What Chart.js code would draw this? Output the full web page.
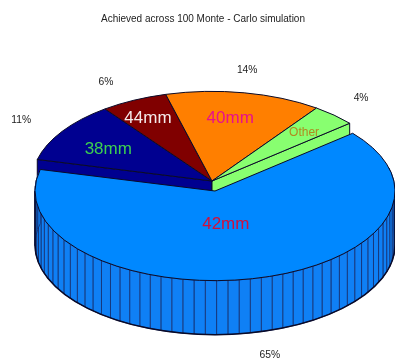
<!DOCTYPE html>
<html>
<head>
<meta charset="utf-8">
<title>Monte-Carlo pie</title>
<script src="https://cdn.jsdelivr.net/npm/chart.js@4"></script>
<style>
    html, body { margin: 0; padding: 0; background: #fff; }
    canvas { display: block; }
</style>
</head>
<body>
<canvas id="pieChart" width="395" height="358"></canvas>
<script>
const chartTitle = 'Achieved across 100 Monte - Carlo simulation';
const categories = ['42mm', '38mm', '44mm', '40mm', 'Other'];
const shares = [65, 11, 6, 14, 4];
const sliceColors = ['#0088ff', '#000090', '#800000', '#ff7f00', '#88ff70'];
const nameColors = ['#d0103c', '#3ccf50', '#f4eaea', '#e8108c', '#b08a20'];

// Pie is drawn flat by the library, then squashed and given depth here
const squash = 0.498;
const depth = 54;
const centerY = 181;
const wallColor = '#0f80f5';
const facetColor = 'rgba(20, 45, 110, 0.8)';
const edgeColor = '#0a0a28';
const explode = [3, 10]; // the big slice sits apart from the rest

// label offsets from the rim point at each slice's mid angle
const nameNudge = [[-30, -54], [46, 18], [14, 18], [-14, 26], [-30, 18]];
const shareNudge = [[14, 77], [-41, -11], [-28, -18], [3, -23], [27, -17]];

function place(arc, i) {
    return {
        x: arc.x + (i === 0 ? explode[0] : 0),
        y: centerY + (i === 0 ? explode[1] : 0),
        rx: arc.outerRadius,
        ry: arc.outerRadius * squash
    };
}

function rim(p, angle) {
    return [p.x + p.rx * Math.cos(angle), p.y + p.ry * Math.sin(angle)];
}

function drawQuad(ctx, a, b, h, fill) {
    ctx.beginPath();
    ctx.moveTo(a[0], a[1]);
    ctx.lineTo(b[0], b[1]);
    ctx.lineTo(b[0], b[1] + h);
    ctx.lineTo(a[0], a[1] + h);
    ctx.closePath();
    ctx.fillStyle = fill;
    ctx.fill();
    ctx.stroke();
}

// top face: library arc under a vertical squash, outline stroked unsquashed
function drawTop(ctx, arc, i) {
    const p = place(arc, i);
    ctx.save();
    ctx.translate(p.x, p.y);
    ctx.scale(1, squash);
    ctx.translate(-arc.x, -arc.y);
    arc.draw(ctx);
    ctx.restore();
    ctx.beginPath();
    ctx.moveTo(p.x, p.y);
    ctx.ellipse(p.x, p.y, p.rx, p.ry, 0, arc.startAngle, arc.endAngle);
    ctx.closePath();
    ctx.stroke();
}

// one facet per percent around the outer wall, darker outline along the bottom
function drawWall(ctx, arc, i) {
    const p = place(arc, i);
    const step = (arc.endAngle - arc.startAngle) / shares[i];
    ctx.save();
    ctx.strokeStyle = facetColor;
    for (let k = 0; k < shares[i]; k++) {
        const a = arc.startAngle + k * step;
        if (Math.sin(a + step / 2) < -0.25) continue;
        drawQuad(ctx, rim(p, a), rim(p, a + step), depth, wallColor);
    }
    ctx.restore();
    ctx.beginPath();
    ctx.moveTo(p.x - p.rx, p.y);
    ctx.lineTo(p.x - p.rx, p.y + depth);
    ctx.ellipse(p.x, p.y + depth, p.rx, p.ry, 0, Math.PI, 0, true);
    ctx.lineTo(p.x + p.rx, p.y);
    ctx.lineWidth = 1.5;
    ctx.stroke();
    ctx.lineWidth = 1;
}

function drawCut(ctx, arc, i, angle) {
    const p = place(arc, i);
    drawQuad(ctx, [p.x, p.y], rim(p, angle), depth, sliceColors[i]);
}

const pie3d = {
    id: 'pie3d',
    beforeDatasetDraw(chart) {
        const ctx = chart.ctx;
        const arcs = chart.getDatasetMeta(0).data;
        ctx.save();
        ctx.lineWidth = 1;
        ctx.strokeStyle = edgeColor;
        drawCut(ctx, arcs[1], 1, arcs[1].startAngle);
        drawCut(ctx, arcs[4], 4, arcs[4].endAngle);
        for (let i = 1; i < arcs.length; i++) drawTop(ctx, arcs[i], i);
        drawWall(ctx, arcs[0], 0);
        drawTop(ctx, arcs[0], 0);
        ctx.restore();
        return false; // all slices are already on the canvas
    },
    afterDraw(chart) {
        const ctx = chart.ctx;
        const arcs = chart.getDatasetMeta(0).data;
        ctx.save();
        ctx.textAlign = 'center';
        ctx.textBaseline = 'middle';
        ctx.fillStyle = '#222';
        ctx.font = '10px "Liberation Sans"';
        ctx.fillText(chartTitle, 203, 19);
        arcs.forEach(function(arc, i) {
            const p = place(arc, i);
            const pt = rim(p, (arc.startAngle + arc.endAngle) / 2);
            ctx.fillStyle = '#222';
            ctx.font = '10.3px "Liberation Sans"';
            ctx.fillText(shares[i] + '%', pt[0] + shareNudge[i][0], pt[1] + shareNudge[i][1]);
            ctx.fillStyle = nameColors[i];
            ctx.font = (i === 4 ? '12px' : '17px') + ' "Liberation Sans"';
            ctx.fillText(categories[i], pt[0] + nameNudge[i][0], pt[1] + nameNudge[i][1]);
        });
        ctx.restore();
    }
};

new Chart(document.getElementById('pieChart'), {
    type: 'pie',
    data: {
        labels: categories,
        datasets: [{
            data: shares,
            backgroundColor: sliceColors,
            borderWidth: 0
        }]
    },
    options: {
        responsive: false,
        animation: false,
        rotation: 49.9,
        radius: 180,
        layout: { padding: { left: 29 } },
        plugins: {
            legend: { display: false },
            tooltip: { enabled: false },
            title: { display: false }
        }
    },
    plugins: [pie3d]
});
</script>
</body>
</html>
